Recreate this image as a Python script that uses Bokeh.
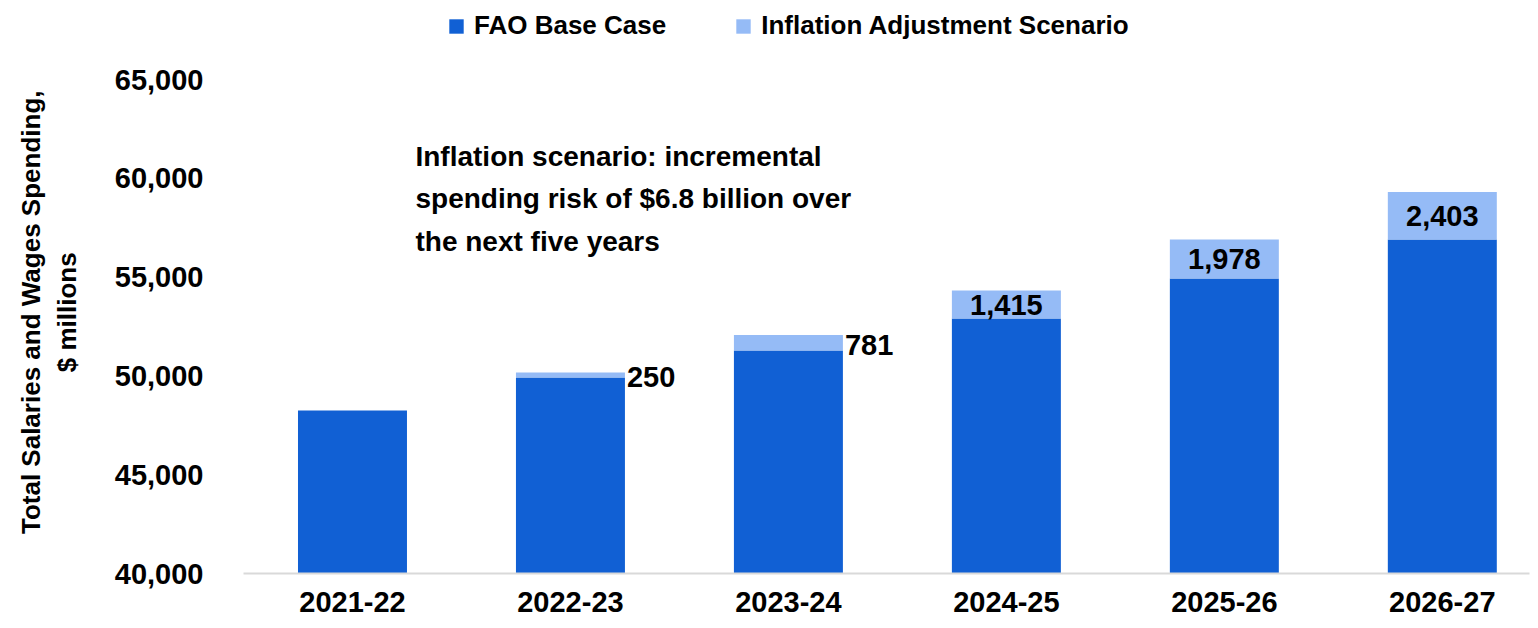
from bokeh.plotting import figure
from bokeh.models import (ColumnDataSource, Range1d, FixedTicker, NumeralTickFormatter,
                          Legend, LegendItem, Label)
from bokeh.core.properties import value
from bokeh.embed import file_html
from bokeh.resources import INLINE

# ---- data ----
categories = ["2021-22", "2022-23", "2023-24", "2024-25", "2025-26", "2026-27"]
base_case = [48250, 49920, 51285, 52905, 54930, 56900]
inflation_adj = [0, 250, 781, 1415, 1978, 2403]
y_ticks = [40000, 45000, 50000, 55000, 60000, 65000]
series_names = ["FAO Base Case", "Inflation Adjustment Scenario"]
y_title_lines = ["Total Salaries and Wages Spending,", "$ millions"]
annotation_text = "Inflation scenario: incremental\nspending risk of $6.8 billion over\nthe next five years"

DARK = "#1160d4"
LIGHT = "#95bbf6"
FONT = "Liberation Sans"

x = list(range(len(categories)))
source = ColumnDataSource(dict(x=x, base=base_case, infl=inflation_adj))

# frame reaches the top of the canvas so the legend can sit inside it, above the 65,000 tick
p = figure(width=1530, height=620, output_backend="svg", toolbar_location=None,
           x_range=Range1d(-0.5, 5.4), y_range=Range1d(40000, 69000),
           min_border_left=243, min_border_right=1, min_border_top=0, min_border_bottom=47)
p.outline_line_color = None
p.xgrid.visible = False
p.ygrid.visible = False

rs = p.vbar_stack(["base", "infl"], x="x", width=0.5, color=[DARK, LIGHT], source=source,
                  line_color=None)

# data labels
BAR_W = 0.5
out_x, out_y, out_t, in_x, in_y, in_t = [], [], [], [], [], []
for i, (b, a) in enumerate(zip(base_case, inflation_adj)):
    if a <= 0:
        continue
    txt = f"{a:,}"
    if a < 1000:
        out_x.append(i + BAR_W / 2); out_y.append(b + a / 2); out_t.append(txt)
    else:
        in_x.append(i); in_y.append(b + a / 2); in_t.append(txt)

p.text(x=out_x, y=out_y, text=out_t, text_font=value(FONT), text_font_style="bold",
       text_font_size="29px", text_align="left", text_baseline="middle", x_offset=2,
       y_offset=2, text_color="#000000")
p.text(x=in_x, y=in_y, text=in_t, text_font=value(FONT), text_font_style="bold",
       text_font_size="29px", text_align="center", text_baseline="middle",
       text_color="#000000")

# annotation
p.add_layout(Label(x=0.289, y=61900, text=annotation_text, text_font=FONT,
                   text_font_style="bold", text_font_size="28px", text_line_height=1.37,
                   text_baseline="top", text_align="left", text_color="#000000"))

# axes
xa = p.xaxis[0]
xa.ticker = FixedTicker(ticks=x)
xa.major_label_overrides = {i: c for i, c in enumerate(categories)}
xa.major_label_text_font = FONT
xa.major_label_text_font_style = "bold"
xa.major_label_text_font_size = "29px"
xa.major_label_text_color = "#000000"
xa.major_label_standoff = 12
xa.axis_line_color = "#d9d9d9"
xa.axis_line_width = 2
xa.major_tick_line_color = None
xa.minor_tick_line_color = None

ya = p.yaxis[0]
ya.ticker = FixedTicker(ticks=y_ticks)
ya.formatter = NumeralTickFormatter(format="0,0")
ya.major_label_text_font = FONT
ya.major_label_text_font_style = "bold"
ya.major_label_text_font_size = "29px"
ya.major_label_text_color = "#000000"
ya.major_label_standoff = 34
ya.axis_line_color = None
ya.major_tick_line_color = None
ya.minor_tick_line_color = None
# trailing non-breaking spaces move the centred title down to the middle of the value axis
PAD = "\u00a0" * 7
ya.axis_label = "\n".join(line + PAD for line in y_title_lines)
ya.axis_label_text_font = FONT
ya.axis_label_text_font_style = "bold"
ya.axis_label_text_font_size = "26px"
ya.axis_label_text_color = "#000000"
ya.axis_label_standoff = 30

legend = Legend(items=[LegendItem(label=series_names[0], renderers=[rs[0]]),
                       LegendItem(label=series_names[1], renderers=[rs[1]])],
                orientation="horizontal", location=(204, 532),
                glyph_width=18, glyph_height=18, label_standoff=9, spacing=68,
                padding=4, margin=0, border_line_color=None, background_fill_alpha=0,
                label_text_font=FONT, label_text_font_style="bold",
                label_text_font_size="26px", label_text_color="#000000")
p.add_layout(legend)

open("out.html", "w").write(file_html(p, INLINE))
